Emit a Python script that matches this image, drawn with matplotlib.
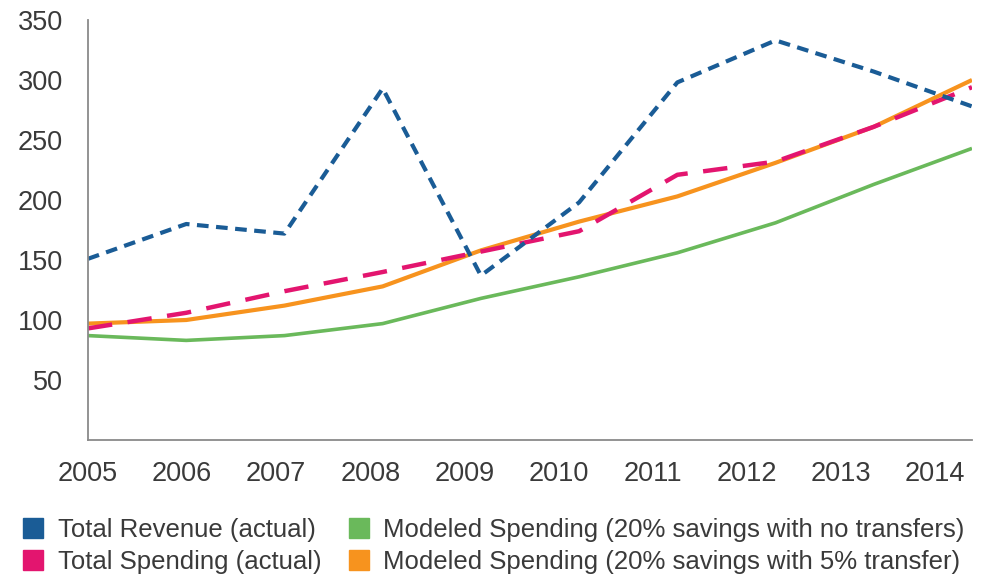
import numpy as np
import matplotlib
matplotlib.use("Agg")
import matplotlib.pyplot as plt
from matplotlib.lines import Line2D

plt.rcParams['font.family'] = ['Liberation Sans', 'DejaVu Sans']

years = ['2005', '2006', '2007', '2008', '2009', '2010', '2011', '2012', '2013', '2014']
revenue = [151, 180, 172, 293, 137, 198, 298, 333, 307, 278]
spending = [93, 106, 124, 140, 157, 174, 221, 232, 261, 294]
modeled_no_transfer = [87, 83, 87, 97, 118, 136, 156, 181, 213, 243]
modeled_5pct = [97, 100, 112, 128, 158, 182, 203, 231, 261, 300]
yticks = [50, 100, 150, 200, 250, 300, 350]

c_blue = '#1a5c96'
c_pink = '#e3156f'
c_green = '#6ab95b'
c_orange = '#f7931e'
txt = '#3a3a3a'

fig = plt.figure(figsize=(9.82, 5.85), dpi=100)
ax = fig.add_axes([88 / 982, 145 / 585, 884 / 982, 420 / 585])

x = np.arange(len(years))
ax.plot(x, modeled_no_transfer, color=c_green, lw=2.6, solid_capstyle='butt')
ax.plot(x, modeled_5pct, color=c_orange, lw=3.0, solid_capstyle='butt')
ax.plot(x, spending, color=c_pink, lw=3.2, dashes=(5.5, 3.5))
ax.plot(x, revenue, color=c_blue, lw=3.0, dashes=(2.8, 1.8))

ax.set_xlim(0, 9)
ax.set_ylim(0, 350)
# the labels in the original are packed a bit tighter than the data points
ax.set_xticks(x * 0.958)
ax.set_xticklabels(years)
ax.set_yticks(yticks)
ax.tick_params(axis='both', length=0, labelsize=19.5, colors=txt)
ax.tick_params(axis='x', pad=15)
ax.tick_params(axis='y', pad=18)

for s in ['top', 'right']:
    ax.spines[s].set_visible(False)
for s in ['left', 'bottom']:
    ax.spines[s].set_color('#8a8a8a')
    ax.spines[s].set_linewidth(1.3)

labels = ['Total Revenue (actual)', 'Total Spending (actual)',
          'Modeled Spending (20% savings with no transfers)',
          'Modeled Spending (20% savings with 5% transfer)']
colors = [c_blue, c_pink, c_green, c_orange]
handles = [Line2D([], [], marker='s', ls='none', markersize=15, color=c) for c in colors]
fig.legend(handles, labels, ncol=2, loc='lower left', bbox_to_anchor=(23 / 982, 0.019),
           frameon=False, fontsize=18.5, labelcolor=txt, handlelength=0.78,
           handletextpad=0.58, columnspacing=1.05, labelspacing=0.32,
           borderpad=0, borderaxespad=0)

fig.savefig('out.png', dpi=100, facecolor='white')
